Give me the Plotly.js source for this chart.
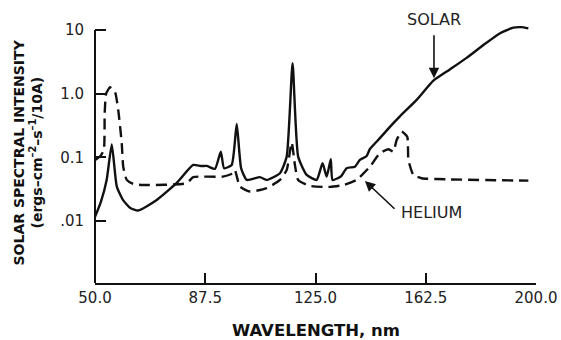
<!DOCTYPE html>
<html>
<head>
<meta charset="utf-8">
<script src="https://cdn.plot.ly/plotly-3.0.1.min.js"></script>
<style>html,body{margin:0;padding:0;background:#fff;}#chart{width:561px;height:340px;}</style>
</head>
<body>
<div id="chart"></div>
<script>
// Wavelength (nm) and intensity readings
const solarWavelength = [50, 52, 54, 55.7, 57.4, 59.5, 62, 64.7, 71, 77.8, 83.4, 86, 88, 90.8, 92.8, 93.9, 96.5, 98.2, 99.7, 101.6, 106.1, 108.4, 112.9, 115.2, 117.2, 119.1, 122, 125.4, 127.4, 128.8, 130.2, 130.8, 133.6, 135.6, 138.4, 140.1, 142.4, 143.5, 146.9, 150, 153.7, 159.4, 165.1, 170.7, 176.4, 182.1, 187.8, 192.3, 195, 197.4];
const solarIntensity = [0.0116, 0.02, 0.045, 0.16, 0.035, 0.0214, 0.016, 0.0146, 0.0214, 0.0396, 0.076, 0.073, 0.0733, 0.066, 0.123, 0.0675, 0.076, 0.334, 0.0675, 0.0442, 0.0488, 0.0442, 0.0563, 0.1026, 3.0, 0.1026, 0.053, 0.0442, 0.0807, 0.0498, 0.0933, 0.0442, 0.05, 0.0675, 0.0714, 0.091, 0.105, 0.135, 0.2, 0.29, 0.44, 0.8, 1.6, 2.4, 3.65, 5.8, 8.9, 10.9, 11.1, 10.6];

const heliumWavelength = [50, 51.7, 53.0, 53.3, 53.8, 55.1, 56.8, 57.9, 59.1, 59.6, 60.8, 63, 66.4, 81.2, 83.4, 93.5, 97, 97.6, 99.3, 102.7, 108.4, 112.9, 115.2, 116.9, 118, 119.1, 123.1, 129.9, 134.5, 139, 143.5, 146.9, 149.8, 151.5, 152.6, 154.3, 156.2, 156.6, 158.3, 161.1, 170.7, 197.4];
const heliumIntensity = [0.091, 0.103, 0.131, 0.5, 1.0, 1.26, 1.07, 0.555, 0.166, 0.0714, 0.0442, 0.0382, 0.0368, 0.0392, 0.0488, 0.0498, 0.0563, 0.063, 0.0347, 0.029, 0.0327, 0.0442, 0.0634, 0.171, 0.076, 0.0442, 0.0356, 0.0343, 0.0368, 0.0442, 0.0714, 0.116, 0.134, 0.123, 0.187, 0.253, 0.211, 0.091, 0.053, 0.047, 0.045, 0.043];

const xTickVals = [50, 87.5, 125, 162.5, 200];
const xTickText = ['50.0', '87.5', '125.0', '162.5', '200.0'];
const yTickVals = [0.01, 0.1, 1, 10];
const yTickText = ['.01', '0.1', '1.0', '10'];

const yRange = [-2.974, 1.126];
const axisTopPaper = (Math.log10(10) - yRange[0]) / (yRange[1] - yRange[0]);

const FONT = 'DejaVu Sans, Verdana, sans-serif';

const traces = [
  {x: solarWavelength, y: solarIntensity, type: 'scatter', mode: 'lines',
   line: {color: '#111', width: 2.4, shape: 'spline', smoothing: 0.5}, hoverinfo: 'skip'},
  {x: heliumWavelength, y: heliumIntensity, type: 'scatter', mode: 'lines',
   line: {color: '#111', width: 2.4, dash: '11px,6px', shape: 'spline', smoothing: 0.5}, hoverinfo: 'skip'}
];

const layout = {
  width: 561, height: 340,
  margin: {l: 95, r: 25, t: 22, b: 57},
  paper_bgcolor: '#fff', plot_bgcolor: '#fff',
  showlegend: false,
  font: {family: FONT, color: '#222', size: 15},
  xaxis: {
    range: [50, 200], tickvals: xTickVals, ticktext: xTickText,
    ticks: 'inside', ticklen: 10, tickwidth: 2, tickcolor: '#111',
    showline: true, linewidth: 2, linecolor: '#111',
    showgrid: false, zeroline: false,
    tickfont: {family: FONT, size: 15, color: '#222'}
  },
  yaxis: {
    type: 'log', range: yRange, tickvals: yTickVals, ticktext: yTickText,
    ticks: 'inside', ticklen: 11, tickwidth: 2, tickcolor: '#111',
    showline: false, showgrid: false, zeroline: false,
    ticklabelstandoff: 10,
    tickfont: {family: FONT, size: 15, color: '#222'}
  },
  shapes: [
    {type: 'line', xref: 'paper', yref: 'paper', x0: 0, x1: 0, y0: 0, y1: axisTopPaper,
     line: {color: '#111', width: 2}}
  ],
  annotations: [
    {xref: 'paper', yref: 'paper', x: 0.5, y: 0, yshift: -47, xanchor: 'center', yanchor: 'middle',
     showarrow: false, text: '<b>WAVELENGTH, nm</b>', font: {family: FONT, size: 16.5, color: '#111'}},
    {xref: 'paper', yref: 'paper', x: 0, y: 0.5, xshift: -77, yshift: 0, xanchor: 'center', yanchor: 'middle',
     textangle: -90, showarrow: false, text: '<b>SOLAR SPECTRAL INTENSITY</b>',
     font: {family: FONT, size: 14, color: '#111'}},
    {xref: 'paper', yref: 'paper', x: 0, y: 0.5, xshift: -59, yshift: 0, xanchor: 'center', yanchor: 'middle',
     textangle: -90, showarrow: false, text: '<b>(ergs–cm<sup>–2</sup>–s<sup>–1</sup>/10A)</b>',
     font: {family: FONT, size: 14, color: '#111'}},
    {x: 165.3, y: Math.log10(1.75), xref: 'x', yref: 'y', showarrow: true, text: 'SOLAR',
     font: {family: FONT, size: 16, color: '#222'},
     ax: 0, ay: -59, startstandoff: 5, arrowhead: 2, arrowsize: 1.3, arrowwidth: 1.6, arrowcolor: '#111'},
    {x: 141.8, y: -1.37, xref: 'x', yref: 'y', showarrow: true, text: 'HELIUM',
     font: {family: FONT, size: 16, color: '#222'}, xanchor: 'left', yanchor: 'middle',
     ax: 34, ay: 32, startstandoff: 6, arrowhead: 2, arrowsize: 1.3, arrowwidth: 1.6, arrowcolor: '#111'}
  ]
};

Plotly.newPlot('chart', traces, layout, {staticPlot: true, displayModeBar: false});
</script>
</body>
</html>
